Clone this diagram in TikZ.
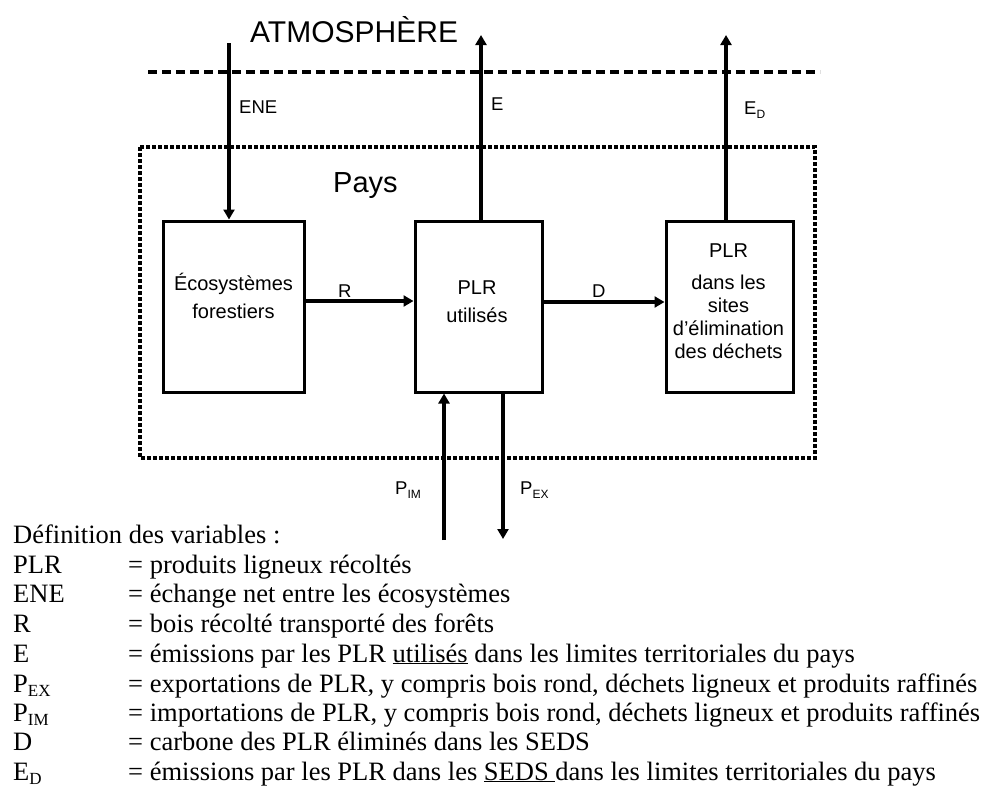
\documentclass[tikz,border=0pt]{standalone}
\usepackage{fontspec}
\setmainfont{Liberation Serif}
\newfontfamily\arialf{Liberation Sans}
\usetikzlibrary{arrows.meta}
\newcommand\lsub[1]{\raisebox{-0.16em}{\fontsize{17}{17}\selectfont #1}}
\newcommand\dsub[1]{\raisebox{-0.25em}{\fontsize{12}{12}\selectfont #1}}
\begin{document}
\begin{tikzpicture}[x=1pt,y=-1pt,
  boxst/.style={draw, line width=3pt, minimum width=#1, minimum height=171pt, inner sep=0pt},
  boxtext/.style={align=center, inner sep=0pt, font=\arialf\fontsize{20}{28}\selectfont},
  flow/.style={line width=4pt, -{Triangle[length=10pt,width=11pt]}},
  lab/.style={anchor=base west, inner sep=0pt, font=\arialf\fontsize{18.5}{20}\selectfont},
  leg/.style={anchor=base west, inner sep=0pt, font=\fontsize{26.5}{30}\selectfont}]
\useasboundingbox (0,0) rectangle (989,790);

% atmosphere boundary
\node[anchor=base west, inner sep=0pt, font=\arialf\fontsize{30}{32}\selectfont] (atm) at (250,42) {ATMOSPHÈRE};
\coordinate (dl) at (148,72);
\coordinate (dr) at (820,72);
\draw[line width=3.3pt, dash pattern=on 9pt off 5pt] (dl) -- (dr);

% country boundary
\coordinate (pa) at (140,147);
\coordinate (pb) at (815,458);
\draw[line width=3.5pt, dash pattern=on 4pt off 2pt] (pa) rectangle (pb);
\node[anchor=base west, inner sep=0pt, font=\arialf\fontsize{29}{32}\selectfont] (pays) at (333,192) {Pays};

% boxes
\node[boxst=141pt] (b1) at (233.5,306.5) {};
\node[boxst=127pt] (b2) at (478.5,306.5) {};
\node[boxst=127pt] (b3) at (729.5,306.5) {};
\node[boxtext] (t1) at (233.5,296) {Écosystèmes\\forestiers};
\node[boxtext] (t2) at (477,302) {PLR\\utilisés};
\node[boxtext, font=\arialf\fontsize{20}{23}\selectfont] (t3) at (728.5,301) {PLR\\[9pt]dans les\\sites\\d’élimination\\des déchets};

% flows
\coordinate (ene) at (229,43);
\draw[flow] (ene) -- (ene |- b1.north);
\coordinate (etop) at (481,35);
\draw[flow] (etop |- b2.north) -- (etop);
\coordinate (edtop) at (726,35);
\draw[flow] (edtop |- b3.north) -- (edtop);
\draw[flow] ([yshift=5.5pt]b1.east) -- ([yshift=5.5pt]b2.west);
\draw[flow] ([yshift=4.5pt]b2.east) -- ([yshift=4.5pt]b3.west);
\coordinate (pim) at (444,540);
\draw[flow] (pim) -- (pim |- b2.south);
\coordinate (pex) at (503,539);
\draw[flow] (pex |- b2.south) -- (pex);

% flow labels
\node[lab] (lene) at (239,113) {ENE};
\node[lab] (le) at (491,110) {E};
\node[lab] (led) at (744,114) {E\dsub{D}};
\node[lab] (lr) at (338,297) {R};
\node[lab] (ld) at (592,297) {D};
\node[lab] (lpim) at (395,494) {P\dsub{IM}};
\node[lab] (lpex) at (520,494) {P\dsub{EX}};

% legend
\node[leg] (g0) at (13,543) {Définition des variables :};
\node[leg] (k1) at (13,573) {PLR};
\node[leg] (v1) at (128,573) {= produits ligneux récoltés};
\node[leg] (k2) at (13,602) {ENE};
\node[leg] (v2) at (128,602) {= échange net entre les écosystèmes};
\node[leg] (k3) at (13,632) {R};
\node[leg] (v3) at (128,632) {= bois récolté transporté des forêts};
\node[leg] (k4) at (13,662) {E};
\node[leg] (v4) at (128,662) {= émissions par les PLR \underline{utilisés} dans les limites territoriales du pays};
\node[leg] (k5) at (13,692) {P\lsub{EX}};
\node[leg] (v5) at (128,692) {= exportations de PLR, y compris bois rond, déchets ligneux et produits raffinés};
\node[leg] (k6) at (13,721) {P\lsub{IM}};
\node[leg] (v6) at (128,721) {= importations de PLR, y compris bois rond, déchets ligneux et produits raffinés};
\node[leg] (k7) at (13,750) {D};
\node[leg] (v7) at (128,750) {= carbone des PLR éliminés dans les SEDS};
\node[leg] (k8) at (13,780) {E\lsub{D}};
\node[leg] (v8) at (128,780) {= émissions par les PLR dans les \underline{SEDS\ }dans les limites territoriales du pays};
\end{tikzpicture}
\end{document}
